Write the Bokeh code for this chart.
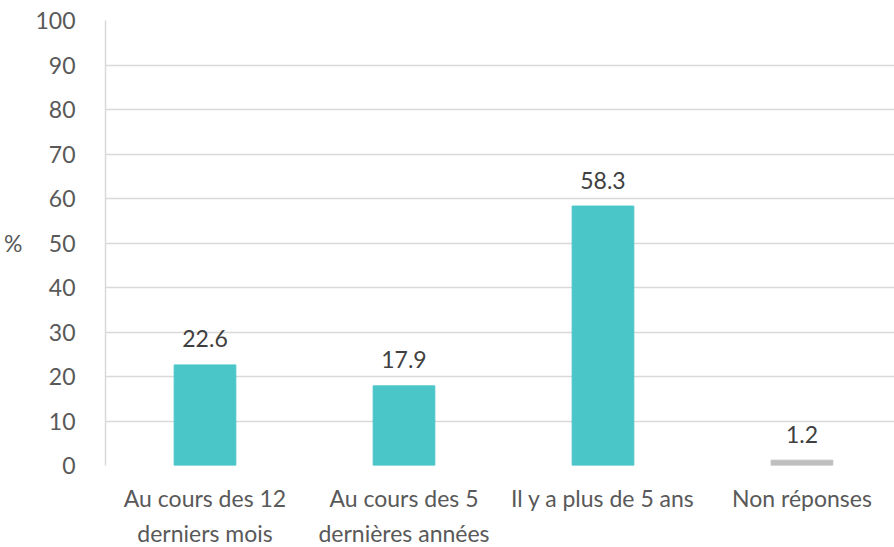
from bokeh.plotting import figure
from bokeh.models import ColumnDataSource, Range1d, FixedTicker
from bokeh.embed import file_html
from bokeh.resources import INLINE
from bokeh.core.properties import value

categories = ["Au cours des 12\nderniers mois", "Au cours des 5\ndernières années",
              "Il y a plus de 5 ans", "Non réponses"]
values = [22.6, 17.9, 58.3, 1.2]
colors = ["#4BC6C8", "#4BC6C8", "#4BC6C8", "#BFBFBF"]
labels = ["22.6", "17.9", "58.3", "1.2"]
y_ticks = list(range(0, 101, 10))

xs = list(range(len(categories)))
src = ColumnDataSource(dict(x=xs, top=values, color=colors, label=labels))

p = figure(frame_width=789, frame_height=445, output_backend="svg", toolbar_location=None,
           x_range=Range1d(-0.5, 3.465), y_range=Range1d(0, 100),
           min_border_left=105, min_border_right=0, min_border_top=20, min_border_bottom=82)
p.outline_line_color = None
p.background_fill_color = "white"
p.border_fill_color = "white"

p.vbar(x="x", top="top", width=0.31, bottom=0, color="color", source=src)
p.text(x="x", y="top", text="label", source=src, text_align="center", text_baseline="middle",
       y_offset=-26, text_font=value("Lato"), text_font_size="23px", text_color="#404040")

p.xgrid.visible = False
p.ygrid.grid_line_color = "#D9D9D9"
p.ygrid.grid_line_width = 1.5
p.yaxis.ticker = FixedTicker(ticks=y_ticks)
p.yaxis.axis_line_color = "#D9D9D9"
p.yaxis.axis_line_width = 1.5
p.yaxis.major_tick_line_color = None
p.yaxis.minor_tick_line_color = None
p.yaxis.major_label_standoff = 24
p.yaxis.major_label_text_font = "Lato"
p.yaxis.major_label_text_font_size = "23px"
p.yaxis.major_label_text_color = "#595959"
p.yaxis.axis_label = "%"
p.yaxis.axis_label_orientation = "horizontal"
p.yaxis.axis_label_standoff = 10
p.yaxis.axis_label_text_font = "Lato"
p.yaxis.axis_label_text_font_style = "normal"
p.yaxis.axis_label_text_font_size = "23px"
p.yaxis.axis_label_text_color = "#595959"

p.xaxis.ticker = FixedTicker(ticks=xs)
p.xaxis.major_label_overrides = {i: c for i, c in enumerate(categories)}
p.xaxis.axis_line_color = None
p.xaxis.major_tick_line_color = None
p.xaxis.minor_tick_line_color = None
p.xaxis.major_label_standoff = 12
p.xaxis.major_label_text_font = "Lato"
p.xaxis.major_label_text_font_size = "23px"
p.xaxis.major_label_text_color = "#595959"
p.xaxis.major_label_text_line_height = 1.25

open("out.html", "w").write(file_html(p, INLINE))
